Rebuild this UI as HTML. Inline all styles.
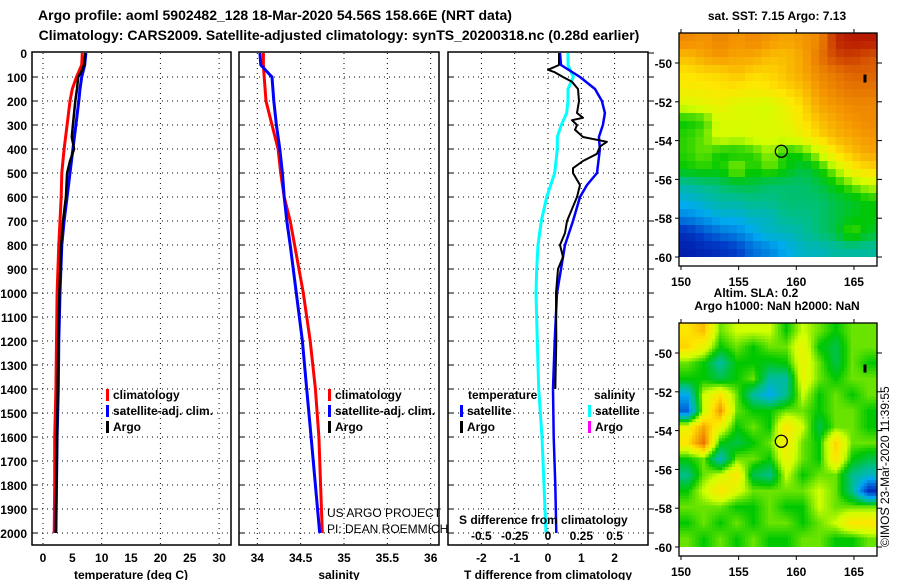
<!DOCTYPE html>
<html><head><meta charset="utf-8"><style>
body{margin:0;background:#fff}
svg text{font-family:"Liberation Sans",Arial,sans-serif}
.b{font-weight:bold}
</style></head><body>
<svg id="c" width="900" height="580" viewBox="0 0 900 580" xmlns="http://www.w3.org/2000/svg">
<rect width="900" height="580" fill="#fff"/>
<text class="b" x="275" y="20" font-size="14" text-anchor="middle">Argo profile: aoml 5902482_128 18-Mar-2020 54.56S 158.66E (NRT data)</text>
<text class="b" x="339" y="40" font-size="14" text-anchor="middle">Climatology: CARS2009. Satellite-adjusted climatology: synTS_20200318.nc (0.28d earlier)</text>
<g id="g"></g>
</svg>
<script>
// ---- data ----
const depthTicks=[0,100,200,300,400,500,600,700,800,900,1000,1100,1200,1300,1400,1500,1600,1700,1800,1900,2000];
const tempTicks=[0,5,10,15,20,25,30];
const salTicks=[34,34.5,35,35.5,36];
const tdTicks=[-2,-1,0,1,2];
const sdTicks=[-0.5,-0.25,0,0.25,0.5];
const sdTickLabels=["-0.5","-0.25","0","0.25","0.5"];
const profDepth=[0,50,100,150,200,300,400,500,600,700,800,1000,1200,1400,1600,1800,2000];
const tempClim=[6.7,6.6,5.7,5.0,4.6,4.1,3.6,3.2,3.1,2.9,2.7,2.4,2.3,2.2,2.0,2.0,1.9];
const tempSat=[7.3,7.1,6.6,6.3,6.1,5.6,5.1,4.6,4.1,3.6,3.2,2.9,2.7,2.6,2.4,2.3,2.2];
const argoDepth=[0,50,80,100,150,200,300,350,400,450,500,600,700,800,1000,1200,1400,1600,1800,2000];
const tempArgo=[7.2,7.0,6.5,6.0,5.8,5.5,5.1,4.9,5.3,4.6,4.1,3.9,3.4,3.1,2.8,2.6,2.5,2.4,2.3,2.2];
const salClim=[34.07,34.07,34.08,34.09,34.1,34.17,34.24,34.27,34.31,34.38,34.43,34.53,34.61,34.67,34.71,34.73,34.75];
const salSat=[34.03,34.04,34.17,34.18,34.19,34.22,34.26,34.29,34.31,34.34,34.38,34.45,34.52,34.57,34.62,34.67,34.72];
const diffDepth=[0,50,100,150,200,250,300,350,400,500,550,600,700,800,900,1000,1200,1400,1600,1800,2000];
const tDiffSat=[0.36,0.39,0.96,1.41,1.62,1.71,1.65,1.53,1.56,1.47,1.17,0.96,0.75,0.51,0.39,0.27,0.2,0.15,0.17,0.22,0.25];
const sDiffSat=[0.15,0.15,0.19,0.15,0.15,0.14,0.1,0.07,0.07,0.05,0.02,-0.01,-0.05,-0.075,-0.085,-0.09,-0.08,-0.07,-0.045,-0.03,-0.015];
const argoDiffDepth=[0,50,70,80,100,120,150,200,250,270,280,300,320,350,370,390,420,450,480,500,550,600,650,700,750,800,850,900,1000,1200,1400];
const tDiffArgo=[0.33,0.33,0.0,0.2,0.45,0.72,0.9,0.93,0.87,1.05,0.72,0.87,0.81,1.05,1.77,1.56,1.47,1.05,0.75,0.75,0.96,0.87,0.72,0.57,0.51,0.36,0.45,0.3,0.24,0.25,0.22];
const latTicks=[-50,-52,-54,-56,-58,-60];
const lonTicks=[150,155,160,165];
const sstGrid=[
[0.82,0.8,0.83,0.8,0.82,0.8,0.78,0.8,0.82,0.95,0.97,0.97],
[0.75,0.78,0.8,0.78,0.78,0.75,0.75,0.78,0.85,0.92,0.93,0.9],
[0.7,0.72,0.72,0.75,0.72,0.72,0.75,0.78,0.82,0.85,0.88,0.88],
[0.68,0.68,0.7,0.7,0.68,0.7,0.72,0.75,0.8,0.83,0.85,0.85],
[0.62,0.64,0.66,0.62,0.62,0.6,0.66,0.72,0.78,0.8,0.82,0.82],
[0.5,0.52,0.62,0.62,0.62,0.62,0.64,0.7,0.75,0.78,0.8,0.82],
[0.52,0.55,0.62,0.6,0.62,0.62,0.62,0.66,0.72,0.76,0.78,0.8],
[0.52,0.55,0.5,0.5,0.52,0.58,0.5,0.52,0.6,0.7,0.75,0.78],
[0.5,0.52,0.5,0.58,0.5,0.55,0.5,0.45,0.5,0.58,0.68,0.72],
[0.38,0.4,0.42,0.45,0.45,0.42,0.42,0.42,0.45,0.5,0.55,0.6],
[0.32,0.35,0.38,0.38,0.4,0.4,0.42,0.42,0.42,0.45,0.47,0.5],
[0.25,0.28,0.32,0.32,0.35,0.35,0.4,0.4,0.42,0.45,0.48,0.5],
[0.12,0.18,0.22,0.25,0.3,0.35,0.35,0.38,0.42,0.45,0.55,0.47],
[0.08,0.1,0.12,0.15,0.22,0.25,0.3,0.35,0.35,0.38,0.38,0.38]];
const slaGrid=[
[0.7,0.75,0.55,0.6,0.6,0.6,0.5,0.6,0.55,0.5,0.55,0.55],
[0.72,0.65,0.5,0.55,0.5,0.55,0.55,0.65,0.5,0.45,0.55,0.55],
[0.55,0.5,0.38,0.5,0.5,0.48,0.5,0.65,0.55,0.45,0.55,0.5],
[0.5,0.5,0.45,0.5,0.55,0.38,0.38,0.65,0.55,0.5,0.55,0.55],
[0.3,0.6,0.7,0.55,0.38,0.3,0.4,0.6,0.5,0.55,0.5,0.55],
[0.2,0.6,0.8,0.55,0.5,0.5,0.55,0.55,0.5,0.55,0.55,0.5],
[0.65,0.78,0.65,0.5,0.55,0.5,0.7,0.6,0.45,0.55,0.55,0.5],
[0.7,0.85,0.5,0.45,0.5,0.55,0.68,0.55,0.5,0.72,0.55,0.55],
[0.5,0.55,0.35,0.55,0.55,0.5,0.65,0.55,0.5,0.7,0.5,0.45],
[0.4,0.55,0.6,0.7,0.45,0.4,0.6,0.5,0.55,0.55,0.4,0.35],
[0.5,0.6,0.7,0.62,0.55,0.55,0.55,0.55,0.6,0.55,0.4,0.12],
[0.55,0.55,0.55,0.5,0.5,0.55,0.5,0.5,0.6,0.55,0.55,0.55],
[0.5,0.55,0.5,0.55,0.5,0.55,0.55,0.5,0.55,0.6,0.7,0.7],
[0.55,0.5,0.55,0.5,0.55,0.5,0.5,0.55,0.55,0.5,0.5,0.55]];
const argoLon=158.7, argoLat=-54.55;

// ---- helpers ----
const NS="http://www.w3.org/2000/svg";
const G=document.getElementById('g');
function mk(tag,at,parent){const e=document.createElementNS(NS,tag);for(const k in at)e.setAttribute(k,at[k]);(parent||G).appendChild(e);return e;}
function txt(x,y,s,size,anchor,bold,parent){const t=mk('text',{x:x,y:y,'font-size':size,'text-anchor':anchor||'start'},parent);if(bold)t.setAttribute('font-weight','bold');t.textContent=s;return t;}
const yD=d=>53+0.24*d;
const PB=545;
const panels=[
 {x0:32,x1:231,sx:v=>43+5.87*v,grid:[0,10,20,30]},
 {x0:239,x1:439,sx:v=>257.3+86.7*(v-34),grid:salTicks},
 {x0:448,x1:648,sx:v=>548+33.3*v,grid:tdTicks}];
const sdX=v=>548+133.3*v;

panels.forEach((p,i)=>{
 const r=mk('rect',{x:p.x0,y:52,width:p.x1-p.x0,height:PB-52,fill:'#fff',stroke:'#000','stroke-width':1.5});
 
 
 depthTicks.forEach(d=>{if(d===0)return;const l=mk('line',{x1:p.x0,x2:p.x1,y1:yD(d),y2:yD(d),stroke:'#000','stroke-width':1,'stroke-dasharray':'1 4'});
  
  
  mk('line',{x1:p.x0,x2:p.x0+5,y1:yD(d),y2:yD(d),stroke:'#000'});});
 p.grid.forEach(v=>{const l=mk('line',{x1:p.sx(v),x2:p.sx(v),y1:53,y2:PB,stroke:'#000','stroke-width':1,'stroke-dasharray':'1 4'});
  
  });
});
depthTicks.forEach(d=>{const t=txt(27,yD(d)+5,String(d),12,'end',true);
 
 
 mk('line',{x1:648,x2:654,y1:yD(d),y2:yD(d),stroke:'#000'});});
tempTicks.forEach(v=>{const t=txt(panels[0].sx(v),562,String(v),12,'middle',true);
 
 });
salTicks.forEach(v=>{const t=txt(panels[1].sx(v),562,String(v),12,'middle',true);
 
 });
tdTicks.forEach(v=>{const t=txt(panels[2].sx(v),562,String(v),12,'middle',true);
 
 });
let t;
t=txt(131,579,'temperature (deg C)',12,'middle',true);
t=txt(339,579,'salinity',12,'middle',true);
t=txt(548,579,'T difference from climatology',12,'middle',true);

function line(xs,ds,sx,color,w,name){
 const pts=xs.map((v,i)=>sx(v).toFixed(1)+','+yD(ds[i]).toFixed(1)).join(' ');
 const e=mk('polyline',{points:pts,fill:'none',stroke:color,'stroke-width':w,'stroke-linejoin':'round'});
 
 
}
line(tempClim,profDepth,panels[0].sx,'#f00',3,'temp-climatology-line');
line(tempSat,profDepth,panels[0].sx,'#00f',3,'temp-satellite-line');
line(tempArgo,argoDepth,panels[0].sx,'#000',2.5,'temp-argo-line');
line(salClim,profDepth,panels[1].sx,'#f00',3,'salinity-climatology-line');
line(salSat,profDepth,panels[1].sx,'#00f',3,'salinity-satellite-line');
line(sDiffSat,diffDepth,sdX,'#0ff',3,'s-diff-satellite-line');
line(tDiffSat,diffDepth,panels[2].sx,'#00f',2.5,'t-diff-satellite-line');
line(tDiffArgo,argoDiffDepth,panels[2].sx,'#000',2,'t-diff-argo-line');

function legItem(x,y,color,label,name){
 const g=mk('g',{});
 
 
 mk('rect',{x:x,y:y-10,width:3,height:12,fill:color},g);
 txt(x+7,y,label,12,'start',true,g);
}
legItem(106,399,'#f00','climatology','legend-entry-climatology-t');
legItem(106,415,'#00f','satellite-adj. clim.','legend-entry-satellite-t');
legItem(106,431,'#000','Argo','legend-entry-argo-t');
legItem(328,399,'#f00','climatology','legend-entry-climatology-s');
legItem(328,415,'#00f','satellite-adj. clim.','legend-entry-satellite-s');
legItem(328,431,'#000','Argo','legend-entry-argo-s');
t=txt(468,399,'temperature',12,'start',true);
t=txt(594,399,'salinity',12,'start',true);
legItem(460,415,'#00f','satellite','legend-entry-t-satellite');
legItem(460,431,'#000','Argo','legend-entry-t-argo');
legItem(588,415,'#0ff','satellite','legend-entry-s-satellite');
legItem(588,431,'#f0f','Argo','legend-entry-s-argo');
t=txt(327,517,'US ARGO PROJECT',12,'start',false);
t=txt(327,533,'PI: DEAN ROEMMICH',12,'start',false);
t=txt(459,524,'S difference from climatology',12,'start',true);
sdTicks.forEach((v,i)=>{const e=txt(sdX(v),540,sdTickLabels[i],12,'middle',true);
 
 });

// ---- maps ----
const cmapStops=[[0,0,0,140],[0.15,0,60,200],[0.3,0,170,240],[0.4,0,190,140],[0.5,0,200,0],[0.6,210,255,0],[0.7,255,230,0],[0.8,245,150,0],[0.9,215,85,0],[1,170,0,0]];
function cmap(v){
 v=Math.max(0,Math.min(1,v));
 for(let i=1;i<cmapStops.length;i++){const a=cmapStops[i-1],b=cmapStops[i];
  if(v<=b[0]){const f=(v-a[0])/(b[0]-a[0]);
   return 'rgb('+[1,2,3].map(k=>Math.round(a[k]+f*(b[k]-a[k]))).join(',')+')';}}
 return 'rgb(170,0,0)';
}
function sample(grid,r,c){ // bilinear, r,c in cell-center coords
 const R=grid.length,C=grid[0].length;
 r=Math.max(0,Math.min(R-1,r));c=Math.max(0,Math.min(C-1,c));
 const r0=Math.floor(r),c0=Math.floor(c),r1=Math.min(R-1,r0+1),c1=Math.min(C-1,c0+1),fr=r-r0,fc=c-c0;
 return grid[r0][c0]*(1-fr)*(1-fc)+grid[r0][c1]*(1-fr)*fc+grid[r1][c0]*fr*(1-fc)+grid[r1][c1]*fr*fc;
}
const lonX=l=>681+11.53*(l-150);
function drawMap(top,grid,name,sub,title1){
 const latY=la=>top+30+19.4*(-50-la);
 const left=679,right=877,bot=latY(-60),frameBot=bot+9;
 const g=mk('g',{});
 
 
 const rows=grid.length,cols=grid[0].length;
 const R=rows*sub,C=cols*sub,cw=(right-left)/C,ch=(bot-top)/R;
 for(let ri=0;ri<R;ri++)for(let ci=0;ci<C;ci++){
  const v=sample(grid,(ri+0.5)/sub-0.5,(ci+0.5)/sub-0.5);
  const c=mk('rect',{x:(left+ci*cw).toFixed(2),y:(top+ri*ch).toFixed(2),width:(cw+0.6).toFixed(2),height:(ch+0.6).toFixed(2),fill:cmap(v)},g);
  
  
 }
 mk('rect',{x:left,y:bot,width:right-left,height:frameBot-bot,fill:'#fff'},g);
 mk('rect',{x:left,y:top,width:right-left,height:frameBot-top,fill:'none',stroke:'#000','stroke-width':1.3},g);
 latTicks.forEach(la=>{mk('line',{x1:right,x2:right+5,y1:latY(la),y2:latY(la),stroke:'#000'},g);
  mk('line',{x1:left-4,x2:left,y1:latY(la),y2:latY(la),stroke:'#000'},g);
  const e=txt(672,latY(la)+5,String(la),12,'end',true,g);
  
  });
 lonTicks.forEach(lo=>{mk('line',{x1:lonX(lo),x2:lonX(lo),y1:top-4,y2:top,stroke:'#000'},g);
  mk('line',{x1:lonX(lo),x2:lonX(lo),y1:frameBot,y2:frameBot+4,stroke:'#000'},g);
  const e=txt(lonX(lo),frameBot+20,String(lo),12,'middle',true,g);
  
  });
 const m=mk('circle',{cx:lonX(argoLon),cy:latY(argoLat),r:6,fill:'none',stroke:'#000','stroke-width':1.3},g);
 
 
 mk('rect',{x:lonX(166)-2,y:latY(-50.8)-4,width:3,height:8,fill:'#000'},g);
 const a=txt(777,top-13,title1,12,'middle',true,g);
 
 
}
drawMap(33,sstGrid,'sst-map',2,'sat. SST: 7.15 Argo: 7.13');
drawMap(323,slaGrid,'sla-map',5,'Argo h1000: NaN h2000: NaN');
t=txt(756,297,'Altim. SLA: 0.2',12,'middle',true);
t=txt(0,0,'©IMOS 23-Mar-2020 11:39:55',12,'start',false);
t.setAttribute('transform','translate(889,547) rotate(-90)');


</script>
</body></html>
